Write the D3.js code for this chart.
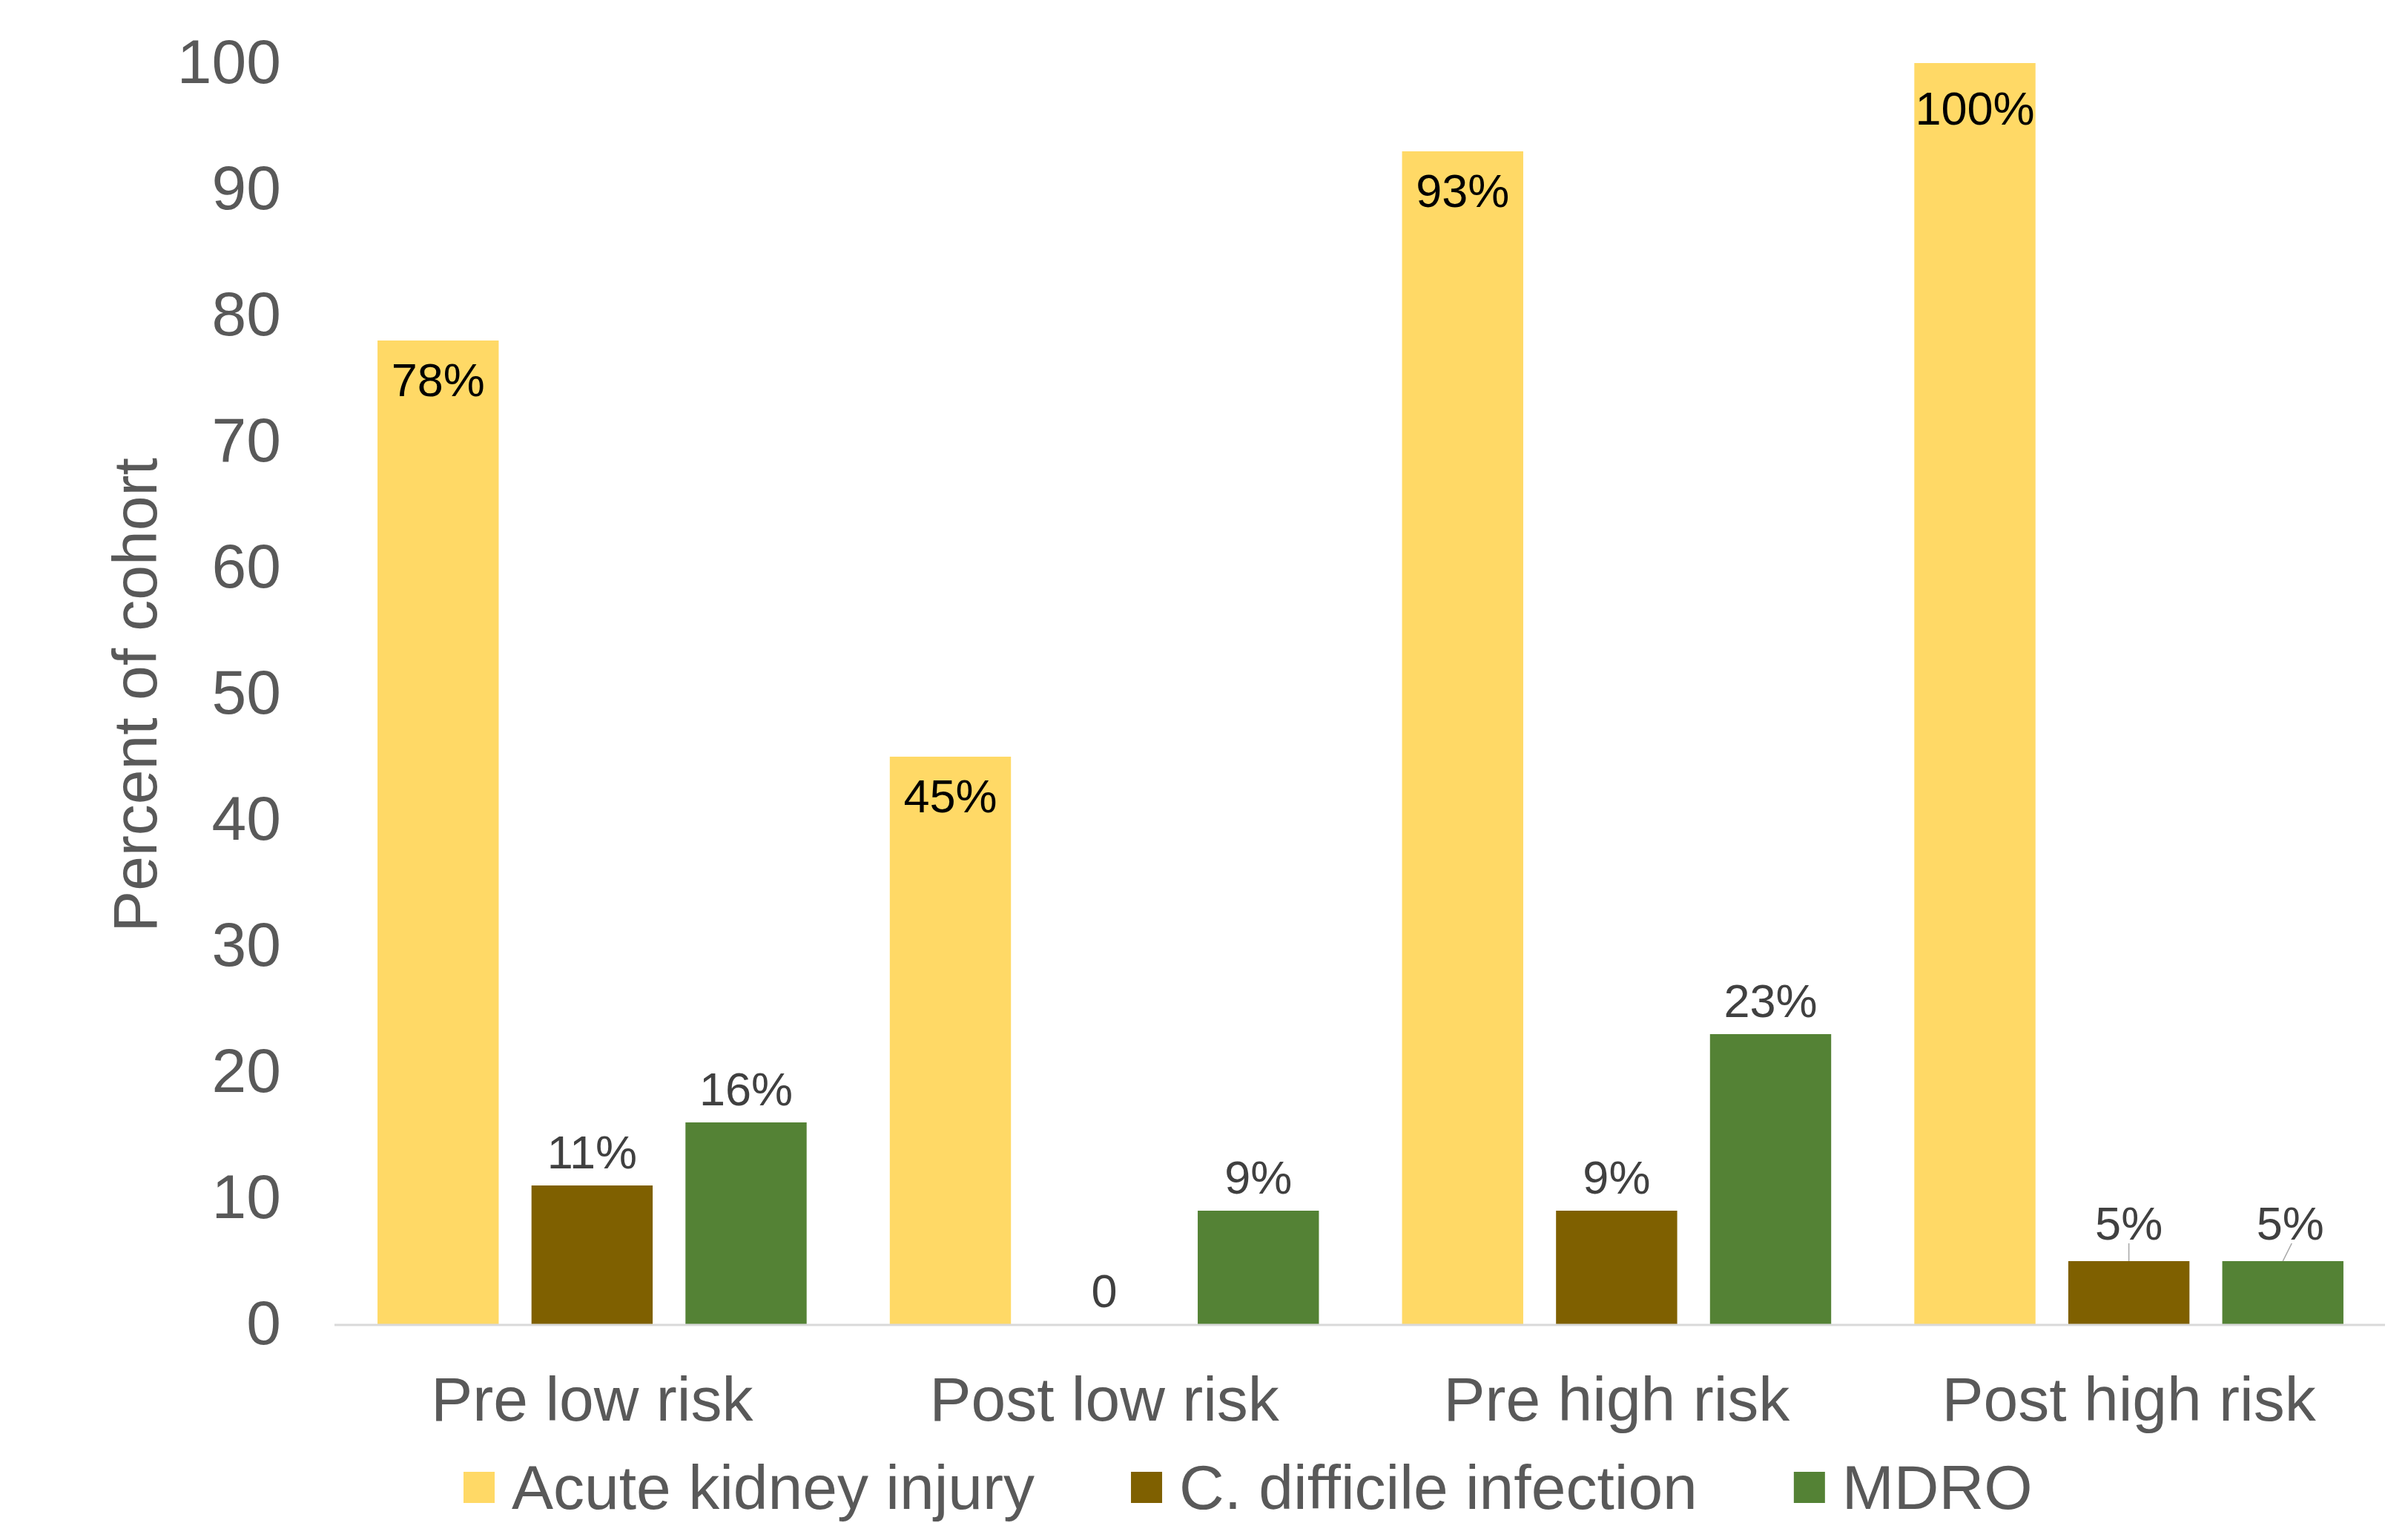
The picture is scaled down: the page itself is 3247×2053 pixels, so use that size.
<!DOCTYPE html>
<html>
<head>
<meta charset="utf-8">
<script src="https://cdn.jsdelivr.net/npm/d3@7"></script>
<style>
  html, body { margin: 0; padding: 0; background: #ffffff; }
  svg { display: block; font-family: "Liberation Sans", Arial, sans-serif; }
</style>
</head>
<body>
<script>
// Outcome rates by cohort
const categories = ["Pre low risk", "Post low risk", "Pre high risk", "Post high risk"];
const seriesNames = ["Acute kidney injury", "C. difficile infection", "MDRO"];
const akiValues = [78, 45, 93, 100];
const cdiValues = [11, 0, 9, 5];
const mdroValues = [16, 9, 23, 5];
const yTicks = [0, 10, 20, 30, 40, 50, 60, 70, 80, 90, 100];
const yTitle = "Percent of cohort";

const seriesValues = [akiValues, cdiValues, mdroValues];
const colors = ["#FFD966", "#7F6000", "#548235"];

const W = 3247, H = 2053;
const margin = { left: 453, right: 31, top: 85, bottom: 268 };

const svg = d3.select("body").append("svg")
  .attr("width", W).attr("height", H);

const x0 = d3.scaleBand()
  .domain(categories)
  .range([margin.left, W - margin.right])
  .paddingInner(0).paddingOuter(0);

const x1 = d3.scaleBand()
  .domain(seriesNames)
  .range([0, x0.bandwidth()])
  .paddingInner(0.213)
  .paddingOuter(0.27);

const y = d3.scaleLinear()
  .domain([0, 100])
  .range([H - margin.bottom, margin.top]);

// y axis: labels only, no line or ticks
const yAxis = svg.append("g")
  .attr("transform", `translate(${margin.left},0)`)
  .call(d3.axisLeft(y).tickValues(yTicks).tickSize(0).tickPadding(74));
yAxis.select(".domain").remove();
yAxis.selectAll("text")
  .attr("fill", "#595959")
  .style("font-size", "84px")
  .style("font-family", "'Liberation Sans', Arial, sans-serif");

// y axis title
svg.append("text")
  .attr("transform", `translate(182,${(y(0) + y(100)) / 2 + 2}) rotate(-90)`)
  .attr("text-anchor", "middle")
  .attr("dominant-baseline", "central")
  .attr("fill", "#595959")
  .style("font-size", "84px")
  .text(yTitle);

// bars
const rows = [];
categories.forEach((c, ci) => {
  seriesNames.forEach((s, si) => {
    rows.push({ cat: c, series: s, si, value: seriesValues[si][ci] });
  });
});

svg.append("g").selectAll("rect")
  .data(rows)
  .join("rect")
  .attr("x", d => x0(d.cat) + x1(d.series))
  .attr("y", d => y(d.value))
  .attr("width", x1.bandwidth())
  .attr("height", d => y(0) - y(d.value))
  .attr("fill", d => colors[d.si]);

// category axis baseline
svg.append("line")
  .attr("x1", margin.left - 2).attr("x2", W - margin.right)
  .attr("y1", y(0) + 1).attr("y2", y(0) + 1)
  .attr("stroke", "#d9d9d9").attr("stroke-width", 3);

// category labels
const xAxis = svg.append("g")
  .attr("transform", `translate(0,${y(0)})`)
  .call(d3.axisBottom(x0).tickSize(0).tickPadding(70));
xAxis.select(".domain").remove();
xAxis.selectAll("text")
  .attr("fill", "#595959")
  .style("font-size", "84px")
  .style("font-family", "'Liberation Sans', Arial, sans-serif");

// value labels: inside the top of the kidney-injury bars, above the others
const fmt = v => v === 0 ? "0" : v + "%";
// labels lifted clear of a crowded bar top, drawn with a short leader
const lifted = { "Post high risk|C. difficile infection": [0, 6], "Post high risk|MDRO": [10, 6] };

const labels = svg.append("g").style("font-size", "63px");
rows.forEach(d => {
  const cx = x0(d.cat) + x1(d.series) + x1.bandwidth() / 2;
  if (d.si === 0) {
    labels.append("text")
      .attr("x", cx).attr("y", y(d.value) + 53 + (d.value >= 100 ? 8 : 0))
      .attr("text-anchor", "middle")
      .attr("dominant-baseline", "central")
      .attr("fill", "#000000")
      .text(fmt(d.value));
  } else {
    const shift = lifted[d.cat + "|" + d.series];
    const dx = shift ? shift[0] : 0;
    const dy = shift ? shift[1] : 0;
    const ty = y(d.value) - 45 - dy;
    labels.append("text")
      .attr("x", cx + dx).attr("y", ty)
      .attr("text-anchor", "middle")
      .attr("dominant-baseline", "central")
      .attr("fill", "#404040")
      .text(fmt(d.value));
    if (shift) {
      svg.append("line")
        .attr("x1", cx + dx * 1.2).attr("y1", ty + 27)
        .attr("x2", cx).attr("y2", y(d.value))
        .attr("stroke", "#a6a6a6").attr("stroke-width", 1.5);
    }
  }
});

// legend
const legend = svg.append("g").attr("transform", `translate(625,${2005})`);
let lx = 0;
seriesNames.forEach((name, i) => {
  legend.append("rect")
    .attr("x", lx).attr("y", -21)
    .attr("width", 42).attr("height", 42)
    .attr("fill", colors[i]);
  const t = legend.append("text")
    .attr("x", lx + 65).attr("y", 0)
    .attr("dominant-baseline", "central")
    .attr("fill", "#595959")
    .style("font-size", "84px")
    .text(name);
  lx += 65 + t.node().getComputedTextLength() + 130;
});
</script>
</body>
</html>
